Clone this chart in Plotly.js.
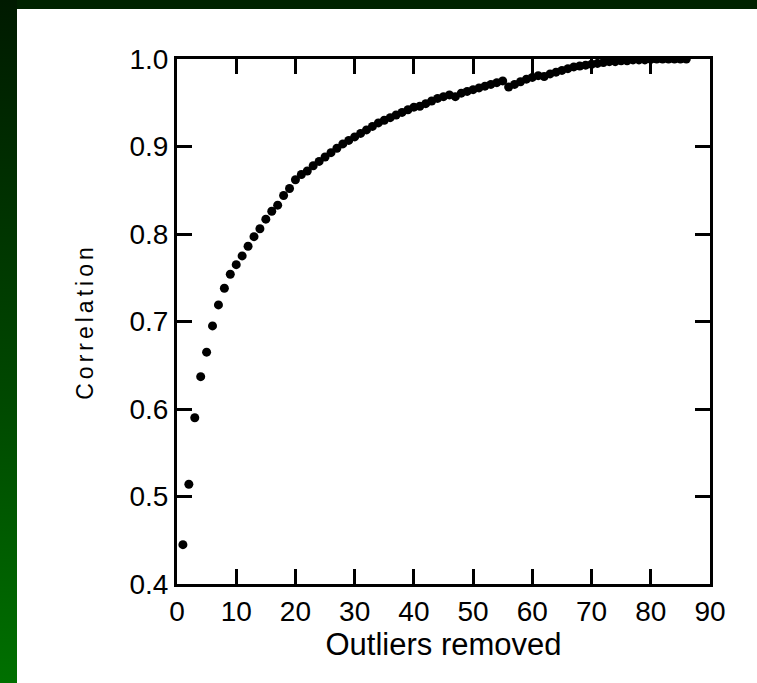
<!DOCTYPE html>
<html>
<head>
<meta charset="utf-8">
<script src="https://cdn.plot.ly/plotly-3.0.1.min.js"></script>
<style>
  html, body { margin: 0; padding: 0; }
  body { width: 757px; height: 683px; position: relative; overflow: hidden; background: #002200; }
  #leftband { position: absolute; left: 0; top: 0; width: 17px; height: 683px;
    background: linear-gradient(to bottom, #001a00 0%, #004a00 60%, #007000 100%); }
  #panel { position: absolute; left: 17px; top: 9px; width: 740px; height: 674px; background: #ffffff; }
  #chart { position: absolute; left: 0; top: 0; width: 757px; height: 683px; }
  #chart .ytitle { letter-spacing: 4px; }
</style>
</head>
<body>
<div id="leftband"></div>
<div id="panel"></div>
<div id="chart"></div>
<script>
const outliersRemoved = [
  1,2,3,4,5,6,7,8,9,10,11,12,13,14,15,16,17,18,19,20,
  21,22,23,24,25,26,27,28,29,30,31,32,33,34,35,36,37,38,39,40,
  41,42,43,44,45,46,47,48,49,50,51,52,53,54,55,56,57,58,59,60,
  61,62,63,64,65,66,67,68,69,70,71,72,73,74,75,76,77,78,79,80,
  81,82,83,84,85,86
];
const correlation = [
  0.445,0.514,0.590,0.637,0.665,0.695,0.719,0.738,0.754,0.765,
  0.775,0.786,0.797,0.806,0.817,0.826,0.833,0.844,0.852,0.862,
  0.868,0.872,0.878,0.883,0.888,0.893,0.898,0.903,0.907,0.911,
  0.915,0.919,0.923,0.927,0.930,0.933,0.936,0.939,0.942,0.945,
  0.946,0.949,0.952,0.955,0.957,0.959,0.957,0.961,0.963,0.965,
  0.967,0.969,0.971,0.973,0.975,0.968,0.971,0.974,0.977,0.979,
  0.981,0.980,0.983,0.985,0.987,0.989,0.991,0.992,0.993,0.994,
  0.995,0.996,0.997,0.997,0.998,0.998,0.999,0.999,0.999,0.9995,
  1.000,1.000,1.000,1.000,1.000,1.000
];
const xTicks = [0,10,20,30,40,50,60,70,80,90];
const yTicks = [0.4,0.5,0.6,0.7,0.8,0.9,1.0];
const xTitle = 'Outliers removed';
const yTitle = 'Correlation';

const font = 'Liberation Sans, Arial, sans-serif';
const trace = {
  x: outliersRemoved, y: correlation, type: 'scatter', mode: 'markers',
  marker: { color: '#000000', size: 9 }, hoverinfo: 'x+y'
};
const axisCommon = {
  showgrid: false, zeroline: false, showline: true, linecolor: '#000', linewidth: 3,
  mirror: 'ticks', ticks: 'inside', ticklen: 15, tickwidth: 3, tickcolor: '#000',
  tickfont: { family: font, size: 28, color: '#000' }
};
const layout = {
  width: 757, height: 683,
  margin: { l: 176.5, r: 47, t: 58.5, b: 99 },
  paper_bgcolor: 'rgba(0,0,0,0)', plot_bgcolor: 'rgba(0,0,0,0)',
  showlegend: false,
  xaxis: Object.assign({}, axisCommon, {
    range: [0, 90], tickmode: 'array', tickvals: xTicks, ticktext: xTicks.map(String),
    title: { text: xTitle, font: { family: font, size: 31, color: '#000' }, standoff: 0 }
  }),
  yaxis: Object.assign({}, axisCommon, {
    range: [0.4, 1.0], tickmode: 'array', tickvals: yTicks, ticktext: yTicks.map(v => v.toFixed(1)),
    title: { text: yTitle, font: { family: font, size: 23, color: '#000' }, standoff: 30 }
  })
};
Plotly.newPlot('chart', [trace], layout, { displayModeBar: false, staticPlot: true });
</script>
</body>
</html>
